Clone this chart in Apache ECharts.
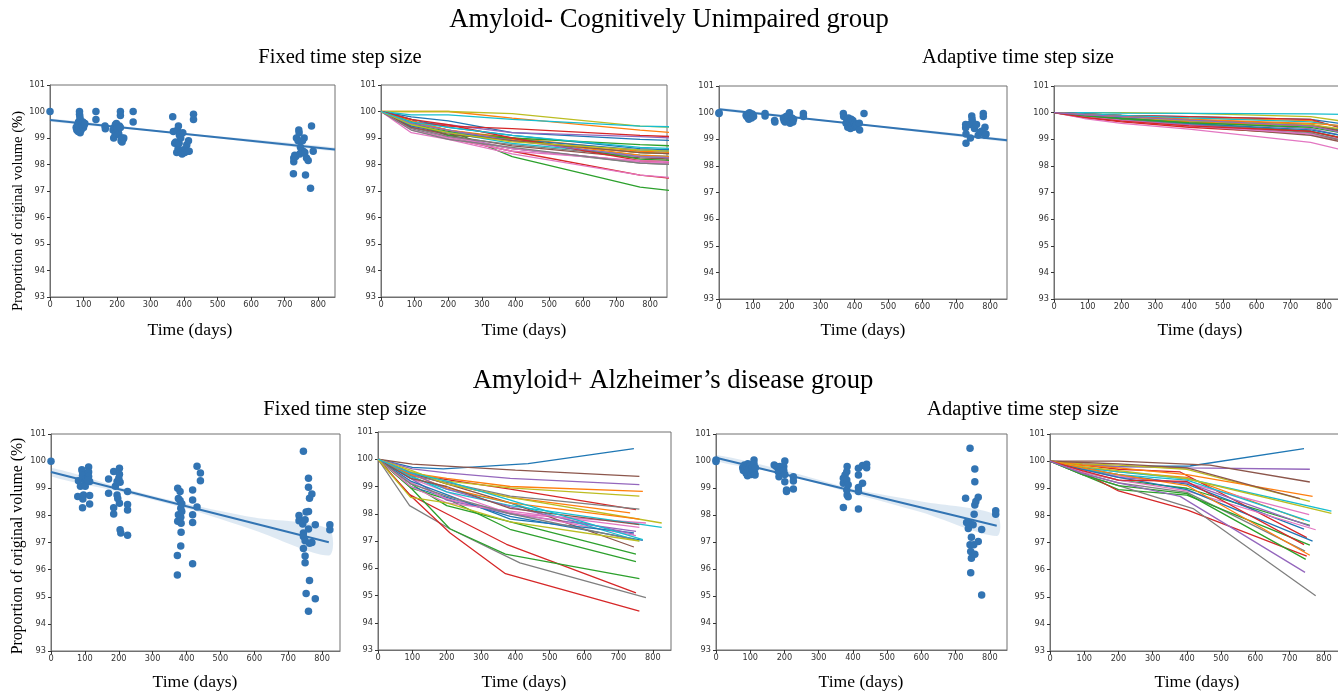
<!DOCTYPE html>
<html><head><meta charset="utf-8">
<script src="https://cdn.jsdelivr.net/npm/echarts@6/dist/echarts.min.js"></script>
<style>html,body{margin:0;padding:0;background:#fff;overflow:hidden;width:1338px;height:691px}#c{width:1352px;height:691px}</style>
</head><body><div id="c"></div>
<script>
// ---------- tick labels ----------
const xTickValues = [0,100,200,300,400,500,600,700,800];
const yMin = 93, yMax = 101;

const tab10 = ['#1f77b4','#ff7f0e','#2ca02c','#d62728','#9467bd','#8c564b','#e377c2','#7f7f7f','#bcbd22','#17becf'];
const dotColor = '#3274b3';

// ---------- Panel 1: Amyloid- fixed, observed ----------
const p1Points = [[0,100],
[78,99.4],[80,99.3],[82,99.5],[84,99.25],[85,99.6],[86,99.35],[87,99.45],[88,100],[88,99.9],[89,99.8],[90,99.7],[90,99.2],[92,99.55],[93,99.3],[95,99.45],[96,99.5],[98,99.6],[100,99.4],[102,99.5],[104,99.55],
[137,100],[137,99.7],[164,99.45],[165,99.35],
[188,99.3],[190,99.0],[192,99.4],[194,99.1],[195,99.5],[197,99.2],[198,99.55],[200,99.35],[203,99.25],[205,99.15],[207,99.45],[210,100],[210,99.85],[210,99.4],[212,98.9],[214,99.0],[215,98.85],[218,98.95],[220,99.0],
[248,100],[248,99.6],
[366,99.8],[368,99.25],[372,98.8],[375,98.85],[378,98.45],[380,99.3],[382,98.6],[383,99.45],[385,98.8],[386,99.1],[388,99.15],[390,99.0],[392,98.5],[394,98.4],[396,99.2],[398,98.55],[402,98.45],[405,98.6],[408,98.75],[410,98.5],[413,98.9],[415,98.5],
[428,99.9],[428,99.7],
[726,97.65],[727,98.1],[727,98.25],[730,98.35],[733,98.3],[735,99.0],[740,98.9],[742,99.3],[743,99.2],[745,98.4],[747,98.65],[750,98.5],[753,98.9],[755,98.5],[758,99.0],[760,98.45],[762,97.6],[765,98.25],[770,98.15],[777,97.1],[780,99.45],[785,98.5]];
const p1Fit = [[0,99.68],[850,98.57]];
const p1BandUpper = [[0,99.74],[400,99.19],[850,98.64]];
const p1BandLower = [[0,99.62],[400,99.13],[850,98.50]];

// ---------- Panel 2: Amyloid- fixed, simulated trajectories ----------
const p2Times = [0,90,200,390,770,870];
const p2Lines = [
[100,99.8,99.65,99.2,98.95,98.9],
[100,100,100,99.75,99.3,99.2],
[100,99.6,99.3,98.3,97.15,97.0],
[100,99.7,99.0,98.5,97.6,97.47],
[100,99.6,99.5,99.2,99.05,99.0],
[100,99.5,99.2,98.9,98.45,98.4],
[100,99.2,98.95,98.4,97.6,97.5],
[100,99.35,99.0,98.6,98.05,98.0],
[100,100,100,99.92,99.45,99.4],
[100,99.87,99.87,99.7,99.45,99.42],
[100,99.7,99.4,99.1,98.6,98.55],
[100,99.6,99.3,99.0,98.5,98.45],
[100,99.5,99.25,99.0,98.75,98.7],
[100,99.6,99.45,99.35,99.1,99.05],
[100,99.4,99.1,98.6,98.1,98.05],
[100,99.5,99.1,98.7,98.25,98.2],
[100,99.45,99.05,98.6,98.1,98.05],
[100,99.4,99.05,98.75,98.3,98.25],
[100,99.55,99.3,98.9,98.45,98.4],
[100,99.5,99.2,98.8,98.35,98.3],
[100,99.45,99.2,98.95,98.55,98.5],
[100,99.65,99.3,98.95,98.35,98.3],
[100,99.6,99.1,99.0,98.2,98.15],
[100,99.7,99.5,99.0,98.15,98.1],
[100,99.55,99.3,98.9,98.3,98.25],
[100,99.4,99.15,98.9,98.45,98.4],
[100,99.3,99.0,98.5,98.15,98.1],
[100,99.3,98.95,98.65,98.05,98.0],
[100,99.5,99.2,98.85,98.55,98.5],
[100,99.6,99.4,99.1,98.65,98.6]];

// ---------- Panel 3: Amyloid- adaptive, observed ----------
const p3Points = [[0,100.0],[0,99.97],
[80,99.9],[82,99.85],[85,99.95],[86,99.8],[88,99.75],[90,100],[92,99.9],[94,99.85],[96,99.8],[98,99.95],[100,99.9],[102,99.85],
[136,99.97],[136,99.87],[164,99.7],[165,99.65],
[190,99.8],[192,99.7],[195,99.65],[198,99.85],[200,99.75],[203,99.8],[205,99.9],[208,100],[210,99.6],[212,99.7],[215,99.8],[218,99.65],[220,99.75],
[249,99.97],[249,99.85],[367,99.97],[368,99.85],
[375,99.6],[378,99.7],[380,99.45],[382,99.8],[384,99.5],[386,99.65],[388,99.4],[390,99.75],[393,99.55],[395,99.7],[398,99.45],[400,99.6],[403,99.5],[406,99.55],
[414,99.6],[415,99.35],[428,99.97],
[728,99.55],[728,99.43],[729,99.2],[729,98.85],[740,99.55],[742,99.05],[746,99.87],[747,99.75],[750,99.6],[754,99.4],[760,99.55],[765,99.15],[770,99.25],[775,99.3],[780,99.97],[780,99.85],[785,99.45],[788,99.2],[786,99.15]];
const p3Fit = [[0,100.13],[850,98.96]];
const p3BandUpper = [[0,100.18],[400,99.6],[850,99.02]];
const p3BandLower = [[0,100.08],[400,99.55],[850,98.90]];

// ---------- Panel 4: Amyloid- adaptive, simulated trajectories ----------
const p4Times = [0,90,200,400,760,870];
const p4Lines = [
[100,99.95,99.9,99.85,99.75,99.55],
[100,99.95,99.9,99.8,99.7,99.4],
[100,99.9,99.8,99.7,99.5,99.3],
[100,99.8,99.65,99.45,99.2,98.9],
[100,99.9,99.8,99.65,99.4,99.1],
[100,99.85,99.7,99.5,99.15,98.85],
[100,99.78,99.6,99.38,98.88,98.55],
[100,99.9,99.75,99.6,99.3,99.0],
[100,100,100,99.97,99.85,99.65],
[100,100,99.98,99.97,99.95,99.93],
[100,99.92,99.85,99.7,99.55,99.3],
[100,99.9,99.8,99.65,99.5,99.25],
[100,99.85,99.75,99.55,99.3,99.0],
[100,99.95,99.9,99.85,99.75,99.35],
[100,99.85,99.72,99.55,99.2,98.95],
[100,99.95,99.88,99.75,99.55,99.25],
[100,99.85,99.7,99.5,99.2,98.95],
[100,99.88,99.78,99.6,99.25,98.9],
[100,99.9,99.82,99.7,99.55,99.35],
[100,99.95,99.9,99.8,99.65,99.45],
[100,99.9,99.8,99.6,99.35,99.1],
[100,99.92,99.85,99.75,99.6,99.5],
[100,99.88,99.78,99.62,99.45,99.2],
[100,99.82,99.68,99.5,99.3,99.0],
[100,99.92,99.85,99.72,99.5,99.2]];

// ---------- Panel 5: Amyloid+ fixed, observed ----------
const p5Points = [[0,100],
[81,99.28],[79,98.7],[87,99.07],[91,99.68],[93,99.6],[93,99.47],[93,98.28],[96,98.75],[94,98.6],[101,99.25],[101,99.07],[104,99.37],[111,99.78],[111,99.6],[111,99.43],[114,99.25],[114,98.73],[114,98.42],[108,99.3],
[170,99.34],[170,98.82],[185,99.62],[185,98.28],[185,98.05],[190,99.07],[195,99.25],[195,98.75],[197,98.62],[200,99.37],[202,99.74],[202,99.52],[202,98.45],[204,99.22],[204,97.47],[206,97.35],[226,98.88],[226,98.4],[226,98.2],[226,97.27],
[374,99.0],[374,97.78],[376,98.62],[376,98.02],[373,96.52],[373,95.8],[381,98.88],[381,98.55],[383,98.26],[383,97.93],[384,97.71],[384,97.38],[383,96.87],[386,98.43],[386,98.14],
[418,98.94],[418,98.57],[418,98.02],[418,97.74],[418,96.22],[431,98.31],[431,99.81],[441,99.56],[441,99.28],
[745,100.36],[732,98.0],[732,97.8],[740,97.78],[743,97.68],[745,97.35],[745,97.22],[745,96.78],[750,97.06],[750,97.84],[753,98.12],[750,96.5],[750,96.25],[753,95.12],[760,99.37],[760,99.04],[763,98.63],[760,98.14],[760,97.5],[763,96.97],[763,95.6],[760,94.47],[770,98.79],[770,97.0],[780,97.65],[780,94.93],
[823,97.65],[823,97.47]];
const p5Fit = [[0,99.6],[820,97.01]];
const p5BandUpper = [[0,99.75],[200,99.05],[400,98.43],[600,97.92],[820,97.5]];
const p5BandLower = [[0,99.44],[200,98.88],[400,98.25],[600,97.45],[820,96.52]];

// ---------- Panel 6: Amyloid+ fixed, simulated trajectories ----------
const p6Lines = [
[[0,100],[100,99.7],[190,99.65],[437,99.84],[745,100.39]],
[[0,100],[95,99.5],[200,99.3],[385,99.0],[771,98.82]],
[[0,100],[95,99.1],[200,98.3],[371,97.75],[751,96.52]],
[[0,100],[95,99.45],[200,99.25],[385,98.9],[751,98.15]],
[[0,100],[100,99.65],[200,99.5],[385,99.3],[761,99.07]],
[[0,100],[100,99.82],[200,99.75],[400,99.6],[761,99.37]],
[[0,100],[95,99.3],[200,98.8],[385,98.0],[780,97.66]],
[[0,100],[92,98.3],[209,97.45],[413,96.2],[780,94.92]],
[[0,100],[95,99.55],[200,99.2],[385,98.95],[761,98.65]],
[[0,100],[95,99.4],[200,98.8],[385,98.3],[826,97.5]],
[[0,100],[95,99.0],[200,98.6],[385,97.9],[771,97.02]],
[[0,100],[95,99.5],[200,99.1],[385,98.6],[734,98.03]],
[[0,100],[95,98.95],[209,98.5],[384,97.43],[751,96.24]],
[[0,100],[92,98.7],[200,98.0],[374,96.88],[751,95.1]],
[[0,100],[95,99.3],[200,98.5],[385,98.0],[751,97.35]],
[[0,100],[95,99.5],[200,99.1],[385,98.4],[745,96.78]],
[[0,100],[95,99.15],[200,98.55],[385,98.05],[751,97.2]],
[[0,100],[95,99.4],[200,99.15],[385,98.65],[761,98.17]],
[[0,100],[95,99.6],[200,99.1],[385,98.6],[826,97.66]],
[[0,100],[95,99.35],[200,98.9],[385,98.4],[761,97.0]],
[[0,100],[95,99.2],[200,98.7],[385,97.8],[745,97.3]],
[[0,100],[95,99.45],[200,98.95],[385,98.4],[761,97.8]],
[[0,100],[92,99.0],[209,97.45],[371,96.52],[761,95.62]],
[[0,100],[92,98.7],[209,97.3],[371,95.8],[761,94.43]],
[[0,100],[95,99.5],[200,98.9],[385,98.25],[745,97.25]],
[[0,100],[95,99.3],[200,99.0],[385,98.2],[761,97.6]],
[[0,100],[95,99.0],[200,98.4],[385,98.1],[761,97.5]],
[[0,100],[95,99.1],[200,98.65],[385,98.0],[745,97.05]],
[[0,100],[95,98.6],[200,98.4],[385,97.7],[761,97.0]],
[[0,100],[95,99.5],[200,99.2],[385,98.5],[771,97.05]]];

// ---------- Panel 7: Amyloid+ adaptive, observed ----------
const p7Points = [[0,100.04],[0,99.98],
[78,99.75],[80,99.65],[83,99.85],[85,99.7],[88,99.55],[90,99.8],[92,99.45],[93,99.9],[95,99.65],[97,99.75],[99,99.6],[101,99.85],[103,99.5],[105,99.7],[107,99.8],[109,99.6],[111,100.04],[111,99.9],[113,99.55],[114,99.48],[115,99.75],
[170,99.85],[176,99.8],[182,99.6],[184,99.42],[186,99.8],[201,100.0],[198,99.8],[198,99.65],[201,99.23],[206,98.93],[206,98.87],[201,99.5],[226,99.42],[226,99.26],[226,98.96],
[372,98.28],[372,99.36],[372,99.18],[377,99.48],[382,99.6],[382,99.3],[383,99.8],[382,98.93],[383,98.74],[386,98.68],[386,99.12],
[416,99.73],[416,99.48],[416,99.02],[416,98.87],[416,98.22],[428,99.18],[428,99.83],[440,99.88],[440,99.75],
[742,100.47],[729,98.62],[732,97.72],[737,97.5],[740,97.7],[742,96.9],[744,96.65],[746,97.18],[746,96.4],[744,95.86],[751,97.64],[754,98.03],[756,98.37],[756,99.7],[756,99.23],[759,98.5],[756,96.55],[753,96.9],[766,98.66],[766,97.02],[776,97.46],[776,95.04],
[817,98.16],[817,98.03]];
const p7Fit = [[0,100.12],[820,97.6]];
const p7BandUpper = [[0,100.22],[200,99.65],[400,98.97],[600,98.5],[820,98.0]];
const p7BandLower = [[0,100.0],[200,99.5],[400,98.8],[600,98.1],[820,97.22]];

// ---------- Panel 8: Amyloid+ adaptive, simulated trajectories ----------
const p8Lines = [
[[0,100],[95,99.85],[200,99.8],[409,99.82],[742,100.46]],
[[0,100],[95,99.8],[200,99.6],[400,99.4],[742,97.82]],
[[0,100],[95,99.6],[200,99.3],[400,99.0],[759,97.63]],
[[0,100],[95,99.85],[200,99.7],[380,99.6],[750,97.18]],
[[0,100],[95,99.9],[200,99.8],[400,99.75],[759,99.7]],
[[0,100],[95,100],[200,100],[467,99.85],[759,99.23]],
[[0,100],[95,99.7],[200,99.45],[400,99.2],[757,98.03]],
[[0,100],[95,99.55],[200,99.2],[400,98.85],[745,96.68]],
[[0,100],[95,99.9],[200,99.85],[400,99.7],[759,98.52]],
[[0,100],[95,99.75],[200,99.6],[400,99.35],[822,98.16]],
[[0,100],[95,99.75],[200,99.5],[400,99.15],[742,97.49]],
[[0,100],[95,99.85],[200,99.75],[400,99.5],[767,98.7]],
[[0,100],[95,99.5],[200,98.95],[400,98.75],[759,96.9]],
[[0,100],[95,99.6],[200,98.9],[400,98.2],[750,96.5]],
[[0,100],[95,99.7],[200,99.4],[400,99.2],[759,97.6]],
[[0,100],[95,99.95],[200,99.9],[400,99.75],[730,98.62]],
[[0,100],[95,99.6],[200,99.3],[400,98.9],[776,97.47]],
[[0,100],[95,99.5],[200,99.1],[418,98.25],[776,95.04]],
[[0,100],[95,99.8],[200,99.65],[400,99.35],[822,98.07]],
[[0,100],[95,99.7],[200,99.5],[400,99.3],[759,97.78]],
[[0,100],[95,99.7],[200,99.4],[400,98.95],[767,97.05]],
[[0,100],[95,99.75],[200,99.5],[400,99.1],[759,96.53]],
[[0,100],[95,99.5],[200,99.1],[400,98.8],[747,96.38]],
[[0,100],[95,99.65],[200,99.3],[400,99.25],[742,96.92]],
[[0,100],[95,99.55],[200,99.2],[380,98.7],[745,95.9]]];

// ---------- layout ----------
const grids = [
  {left:50,  top:85,  width:285, height:212, xMax:850},
  {left:381, top:85,  width:286, height:212, xMax:850},
  {left:719, top:86,  width:288, height:213, xMax:850},
  {left:1054,top:86,  width:287, height:213, xMax:850},
  {left:51,  top:434, width:289, height:217, xMax:853},
  {left:378, top:432, width:293, height:218, xMax:853},
  {left:716, top:434, width:291, height:216, xMax:850},
  {left:1050,top:434, width:291, height:217, xMax:850}
];
const frame = '#707070';
const tickFont = {fontFamily:'DejaVu Sans', fontSize:8.2, color:'#333'};

const option = {
  backgroundColor:'#fff',
  animation:false,
  grid: grids.map(g => ({left:g.left, top:g.top, width:g.width, height:g.height, show:true, borderColor:frame, borderWidth:1, backgroundColor:'transparent', containLabel:false})),
  xAxis: grids.map((g,i) => ({type:'value', gridIndex:i, min:0, max:g.xMax, interval:100,
    axisLine:{show:true, onZero:false, lineStyle:{color:frame}},
    axisTick:{show:true, length:3, lineStyle:{color:'#333'}, customValues:xTickValues},
    axisLabel:Object.assign({margin:4, customValues:xTickValues}, tickFont),
    splitLine:{show:false}})),
  yAxis: grids.map((g,i) => ({type:'value', gridIndex:i, min:yMin, max:yMax, interval:1,
    axisLine:{show:true, onZero:false, lineStyle:{color:frame}},
    axisTick:{show:true, length:3, lineStyle:{color:'#333'}},
    axisLabel:Object.assign({margin:5}, tickFont),
    splitLine:{show:false}})),
  series: [],
  graphic: []
};

function addRegPanel(k, pts, fit, up, lo){
  option.series.push({type:'custom', xAxisIndex:k, yAxisIndex:k, silent:true, z:1, clip:true,
    data:[[fit[0][0], fit[0][1]]],
    renderItem:(params, api) => {
      const poly = up.map(p => api.coord(p)).concat(lo.slice().reverse().map(p => api.coord(p)));
      return {type:'polygon', shape:{points:poly, smooth:0.3}, style:{fill:'rgba(50,116,179,0.16)'}};
    }});
  option.series.push({type:'line', xAxisIndex:k, yAxisIndex:k, data:fit, symbol:'none', silent:true, z:2,
    lineStyle:{color:dotColor, width:2}});
  option.series.push({type:'scatter', xAxisIndex:k, yAxisIndex:k, data:pts, symbolSize:7.5, silent:true, z:3,
    itemStyle:{color:dotColor, opacity:1}});
}
function addLinePanel(k, lines, times){
  lines.forEach((ln, i) => {
    const data = times ? times.map((t,j) => [t, ln[j]]) : ln;
    option.series.push({type:'line', xAxisIndex:k, yAxisIndex:k, data:data, symbol:'none', silent:true, clip:true,
      lineStyle:{color:tab10[i % 10], width:1.3}});
  });
}
addRegPanel(0, p1Points, p1Fit, p1BandUpper, p1BandLower);
addLinePanel(1, p2Lines, p2Times);
addRegPanel(2, p3Points, p3Fit, p3BandUpper, p3BandLower);
addLinePanel(3, p4Lines, p4Times);
addRegPanel(4, p5Points, p5Fit, p5BandUpper, p5BandLower);
addLinePanel(5, p6Lines, null);
addRegPanel(6, p7Points, p7Fit, p7BandUpper, p7BandLower);
addLinePanel(7, p8Lines, null);

const serif = 'Liberation Serif, Times New Roman, serif';
function txt(x, y, s, size, rot){
  option.graphic.push({type:'text', x:x, y:y, rotation:rot || 0, silent:true,
    style:{text:s, fontFamily:serif, fontSize:size, fill:'#000', align:'center', verticalAlign:'middle'}});
}
txt(669, 20, 'Amyloid- Cognitively Unimpaired group', 26.7);
txt(340, 58, 'Fixed time step size', 20.5);
txt(1018, 58, 'Adaptive time step size', 20.5);
txt(673, 381, 'Amyloid+ Alzheimer\u2019s disease group', 26.7);
txt(345, 410, 'Fixed time step size', 20.5);
txt(1023, 410, 'Adaptive time step size', 20.5);
// axis titles
const xLabelX = [190, 524, 863, 1200, 195, 524, 861, 1197];
const xLabelY = [330, 330, 330, 330, 682, 682, 682, 682];
xLabelX.forEach((cx, i) => txt(cx, xLabelY[i], 'Time (days)', 17.6));
txt(18, 211, 'Proportion of original volume (%)', 14.6, Math.PI/2);
txt(18, 546, 'Proportion of original volume (%)', 15.8, Math.PI/2);

const chart = echarts.init(document.getElementById('c'), null, {renderer:'canvas'});
chart.setOption(option);
</script>
</body></html>
